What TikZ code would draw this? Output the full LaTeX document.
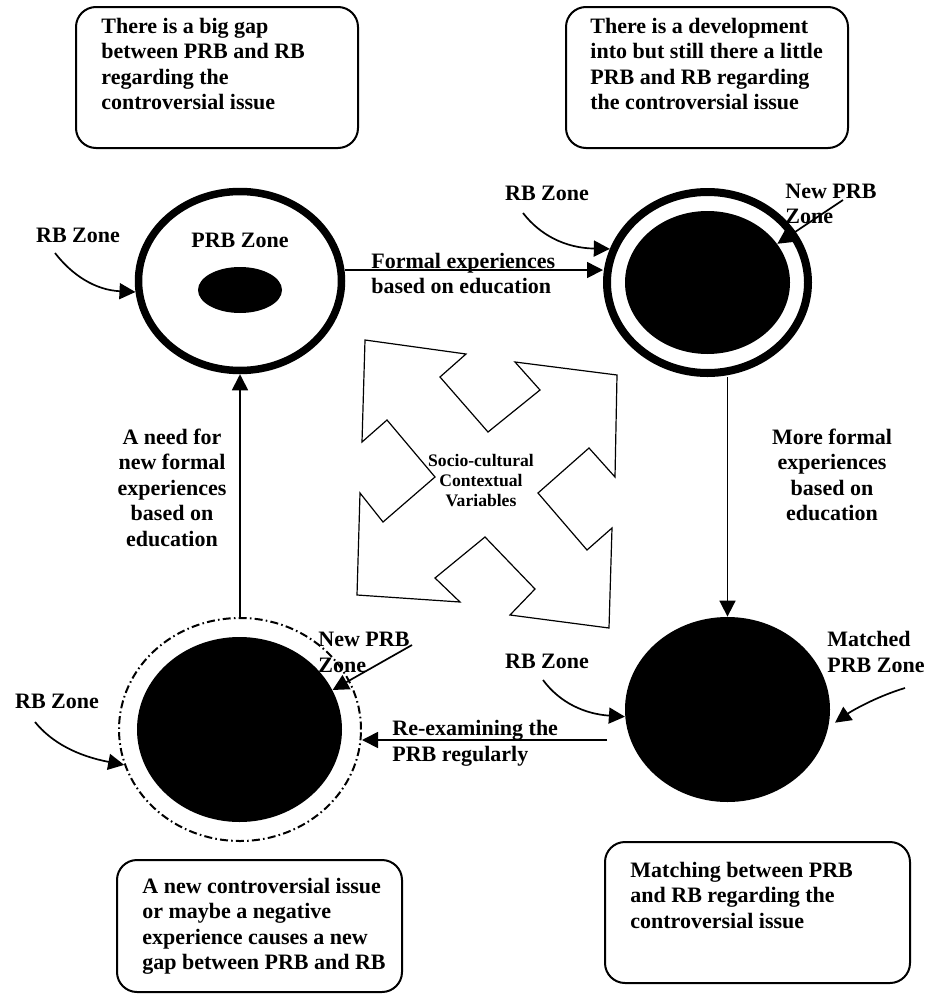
\documentclass[tikz,border=0pt]{standalone}
\usepackage{fontspec}
\setmainfont{Liberation Serif}
\usetikzlibrary{shapes.geometric,arrows.meta}
\newlength\pxu
\setlength\pxu{0.5pt}
\tikzset{
  zone/.style={ellipse, inner sep=0pt, draw, line width=3.75pt},
  core/.style={ellipse, inner sep=0pt, fill=black},
  flow/.style={line width=0.85pt, -{Triangle[length=8pt,width=8pt]}},
  pointer/.style={line width=0.85pt, -{Triangle[length=8pt,width=8pt]}},
  infobox/.style={line width=1pt, rounded corners=10pt},
  lbl/.style={font=\fontsize{11pt}{12.75pt}\selectfont\bfseries, inner sep=0pt},
}
\begin{document}
\begin{tikzpicture}[x=0.5pt, y=-0.5pt]
    \useasboundingbox (0,0) rectangle (935,1001);

    \draw[infobox] (76,7) rectangle (358,148);
    \node[lbl, anchor=base west, align=left] (gaptxt) at (101,109.5)
      {There is a big gap\\between PRB and RB\\regarding the\\controversial issue};
    \draw[infobox] (566,7) rectangle (848,148);
    \node[lbl, anchor=base west, align=left] (devtxt) at (590,109.5)
      {There is a development\\into but still there a little\\PRB and RB regarding\\the controversial issue};
    \draw[infobox] (117,860) rectangle (402,992);
    \node[lbl, anchor=base west, align=left] (newtxt) at (142,969.5)
      {A new controversial issue\\or maybe a negative\\experience causes a new\\gap between PRB and RB};
    \draw[infobox] (605,842) rectangle (910,983);
    \node[lbl, anchor=base west, align=left] (matchtxt) at (630,928)
      {Matching between PRB\\and RB regarding the\\controversial issue};

    \node[zone, minimum width=203\pxu, minimum height=179\pxu] (gap) at (240,281) {};
    \node[core, minimum width=84\pxu, minimum height=46\pxu] (gapcore) at (240,290) {};
    \node[zone, line width=4pt, minimum width=201\pxu, minimum height=181\pxu] (dev) at (707.5,282.5) {};
    \node[core, minimum width=165\pxu, minimum height=143\pxu] (devcore) at (707.5,282.5) {};
    \node[core, minimum width=205\pxu, minimum height=185\pxu] (match) at (727.5,709.5) {};
    \node[zone, line width=1pt, dash pattern=on 4pt off 1.6pt on 0.8pt off 1.6pt,
      minimum width=242\pxu, minimum height=223\pxu] (newgap) at (240,729.5) {};
    \node[core, minimum width=205\pxu, minimum height=185\pxu] (newcore) at (239.5,729.5) {};

    \foreach \n/\x/\y in {rbgap/78/235, rbdev/547/193, rbmatch/547/661, rbnew/57/701}{
      \node[lbl] (\n) at (\x,\y) {RB Zone};
    }
    \node[lbl] (prbgap) at (240,240) {PRB Zone};
    \node[lbl, anchor=base west, align=left] (prbdev) at (785,223.5) {New PRB\\Zone};
    \node[lbl, anchor=base west, align=left] (prbmatch) at (827,672) {Matched\\PRB Zone};
    \node[lbl, anchor=base west, align=left] (prbnew) at (318,672) {New PRB\\Zone};

    \draw[flow] (gap.6) -- (gap.6 -| dev.west);
    \node[lbl, anchor=base west, align=left] (formal) at (371,293.5)
      {Formal experiences\\based on education};
    \draw[flow] (match.north |- dev.south) -- (match.north);
    \node[lbl, anchor=base, align=center] (more) at (832,520.5)
      {More formal\\experiences\\based on\\education};
    \coordinate (reexam) at (607,740);
    \draw[flow] (reexam) -- (reexam -| newgap.east);
    \node[lbl, anchor=base west, align=left] (reexamtxt) at (392,761)
      {Re-examining the\\PRB regularly};
    \draw[flow] (newgap.north) -- (gap.south);
    \node[lbl, anchor=base, align=center] (need) at (172,546)
      {A need for\\new formal\\experiences\\based on\\education};

    \coordinate (rbgapfrom) at (55,253);
    \coordinate (rbdevfrom) at (523,213);
    \coordinate (rbmatchfrom) at (543,680);
    \coordinate (rbnewfrom) at (35,722);
    \coordinate (prbdevfrom) at (843,200);
    \coordinate (prbnewfrom) at (412,645);
    \coordinate (prbmatchfrom) at (905,688);
    \draw[pointer] (rbgapfrom) .. controls (72,275) and (95,290) .. (gap.186);
    \draw[pointer] (rbdevfrom) .. controls (540,235) and (565,248) .. (dev.161);
    \draw[pointer] (rbmatchfrom) .. controls (560,703) and (585,714) .. (match.184);
    \draw[pointer] (rbnewfrom) .. controls (52,743) and (78,756) .. (newgap.197);
    \draw[pointer] (prbdevfrom) -- (devcore.29);
    \draw[pointer] (prbnewfrom) -- (newcore.23);
    \draw[pointer, shorten >=4pt] (prbmatchfrom) .. controls (875,697) and (850,712) .. (match.-10);

    \draw[line width=0.6pt, fill=white] (365,340) -- (466,354) -- (440,377) -- (488,432)
      -- (540,390) -- (515,362) -- (617,375) -- (615,477) -- (589,448) -- (538,493)
      -- (587,550) -- (612,528) -- (609,628) -- (510,615) -- (535,589) -- (485,537)
      -- (435,578) -- (460,602) -- (357,595) -- (360,493) -- (383,522) -- (435,477)
      -- (387,420) -- (362,442) -- cycle;
    \node[font=\fontsize{8.8pt}{10pt}\selectfont\bfseries, align=center] (socio) at (481,481)
      {Socio-cultural\\Contextual\\Variables};
  \end{tikzpicture}
\end{document}
